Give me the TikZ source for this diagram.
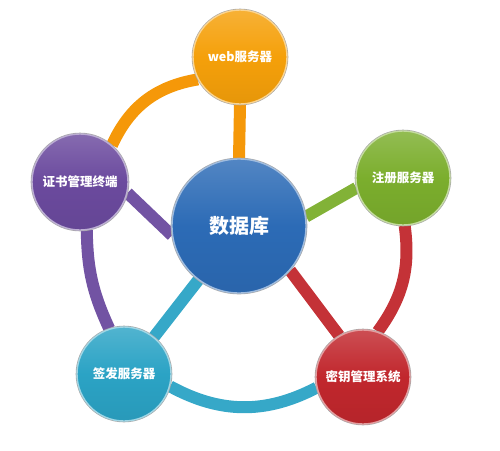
\documentclass[tikz,border=0pt]{standalone}
\usepackage{fontspec}
\newfontfamily\cjk{Noto Sans CJK SC}
\usetikzlibrary{backgrounds}
\definecolor{cOrange}{HTML}{F5A00A}
\definecolor{cGreen}{HTML}{7BAE2D}
\definecolor{cRed}{HTML}{C1272D}
\definecolor{cCyan}{HTML}{2BA3C5}
\definecolor{cPurple}{HTML}{6B4A9E}
\definecolor{cBlue}{HTML}{2C6BB6}
\tikzset{
  bubble/.style={circle, minimum size=94pt, inner sep=0pt, text=white,
    top color=#1!82!white, bottom color=#1!94!black, middle color=#1,
    draw=#1!45!white, line width=1.4pt,
    preaction={draw=black!35, line width=2.6pt},
    font=\cjk\bfseries\fontsize{12.5}{14}\selectfont},
  link/.style={draw=#1, line width=12pt},
}
\begin{document}
\begin{tikzpicture}[x=1pt,y=1pt]
\useasboundingbox (0,0) rectangle (500,-450);
\node[bubble=cBlue, minimum size=134pt, font=\cjk\bfseries\fontsize{20}{24}\selectfont] (db) at (239,-226) {数据库};
\node[bubble=cOrange] (web) at (240,-57) {web服务器};
\node[bubble=cGreen] (reg) at (403,-178) {注册服务器};
\node[bubble=cRed] (key) at (363,-377) {密钥管理系统};
\node[bubble=cCyan] (sign) at (124,-374) {签发服务器};
\node[bubble=cPurple, minimum size=96pt] (cert) at (80,-182) {证书管理终端};
\begin{scope}[on background layer]
  % spokes
  \draw[link=cOrange!95!red] (web.270) -- (db.90);
  \draw[link=cGreen!95!white] (db.8) -- (reg.192);
  \draw[link=cPurple!95!white] (cert.347) -- (db.188);
  \draw[link=cCyan!95!white] (db.233) -- (sign.51);
  \draw[link=cRed!95!white] (db.319) -- (key.120);
  % ring arcs
  \draw[link=cOrange!95!red] (web.208) to[bend right=28] (cert.49);
  \draw[link=cPurple!95!white] (cert.278) to[bend right=12] (sign.108);
  \draw[link=cCyan!95!white] (sign.345) to[bend right=28] (key.193);
  \draw[link=cRed!95!white] (reg.272) to[bend left=22] (key.72);
\end{scope}
\end{tikzpicture}
\end{document}
